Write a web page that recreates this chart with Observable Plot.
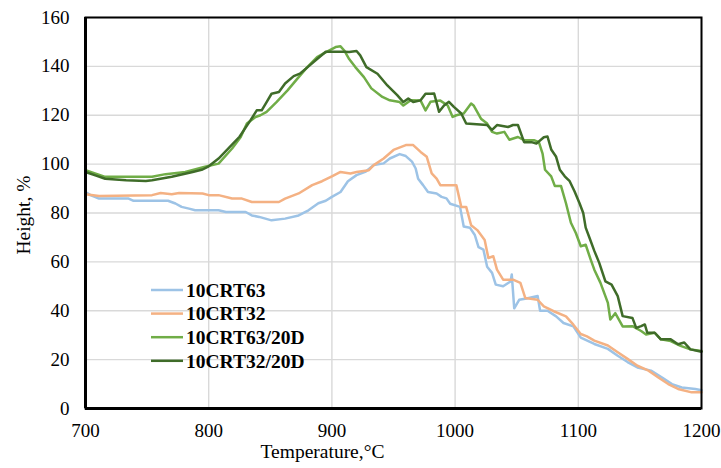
<!DOCTYPE html>
<html>
<head>
<meta charset="utf-8">
<script src="https://cdn.jsdelivr.net/npm/d3@7"></script>
<script src="https://cdn.jsdelivr.net/npm/@observablehq/plot@0.6"></script>
<style>
  html, body { margin: 0; padding: 0; background: #fff; }
  svg { display: block; }
</style>
</head>
<body>
<div id="chart"></div>
<script>
// ---- data ----
const seriesNames = ["10CRT63", "10CRT32", "10CRT63/20D", "10CRT32/20D"];
const seriesColors = ["#9dc3e6", "#f4b183", "#70ad47", "#3f6c29"];
const xTicks = [700, 800, 900, 1000, 1100, 1200];
const yTicks = [0, 20, 40, 60, 80, 100, 120, 140, 160];

const t63 = [700,704,711,735,739,767,773,778,784,789,808,814,830,835,841,851,862,873,881,889,895,900,907,913,920,927,934,942,947,955,960,965,968,970,974,978,985,989,993,996,1004,1007,1012,1016,1019,1023,1026,1030,1033,1039,1045,1046,1048,1052,1058,1067,1069,1075,1082,1088,1096,1102,1113,1124,1132,1140,1148,1159,1168,1176,1184,1195,1200];
const h63 = [88.6,87.3,85.9,85.9,85,85,83.9,82.5,81.8,81.1,81.1,80.4,80.4,79,78.4,77,77.7,79,81.1,84,85,86.6,88.6,93,95.5,96.8,99.6,100.3,102.3,104.1,103.3,101,98.2,94,91.4,88.6,88,86.6,86,83.8,82.5,74.5,74,71,66,65,58,55.5,50.7,50,52,54.8,41,44.5,45,46,40,40,37.7,35,33.6,29,26.4,24.4,21.6,19,16.8,15.5,12.7,10,8.6,8,7.5];

const t32 = [700,711,754,761,770,776,795,800,808,819,827,835,846,857,862,873,884,892,900,907,915,920,930,934,942,950,960,966,972,977,981,985,988,1001,1005,1009,1013,1018,1024,1027,1031,1034,1039,1047,1053,1057,1067,1072,1080,1090,1096,1102,1107,1113,1124,1132,1140,1148,1157,1165,1173,1181,1192,1200];
const h32 = [87.7,87,87.3,88.2,87.7,88.2,88,87.3,87.3,85.9,85.9,84.5,84.5,84.5,85.9,88,91.4,93,95,96.8,96.2,96.8,97.5,99.6,102.3,105.8,107.8,107.8,105,103,96.2,94.1,91.4,91.4,82.5,82.5,75,73,69,61.6,62.3,56.8,52.7,52.7,51.4,45.2,44.5,41.8,39.8,37.7,34.3,30.5,29.5,27.8,25.8,23,20.3,17.5,15.5,12.7,10,8,6.6,6.6];

const t6320 = [700,716,741,754,765,781,797,808,819,826,831,838,842,847,855,864,872,880,888,893,903,907,910,914,919,926,932,941,947,955,958,964,972,976,980,988,994,998,1001,1007,1013,1015,1021,1026,1030,1034,1040,1044,1051,1056,1064,1068,1071,1073,1078,1081,1086,1090,1094,1098,1102,1106,1110,1113,1118,1124,1126,1130,1136,1144,1151,1155,1162,1167,1175,1183,1191,1200];
const h6320 = [97.5,94.8,94.8,94.8,95.9,96.8,98.9,100.2,106.4,111.1,116.6,119.3,120,121.4,125.4,130.2,135,139.7,143.8,145.2,147.9,148.2,146.5,143,139.7,135.6,131,127.5,126.1,125.4,124,126.1,126,122,125.5,126,124,119.3,120,120.7,124.8,124,118.6,116.6,113.2,112.5,113.2,110,111.1,109.8,109.8,109,104.3,97.7,95,91,91,84,76,71.8,66.4,67,61,56.8,51.4,43.2,36.4,39,33.6,33.7,31.7,30.3,31,28.3,27.6,25.6,24.2,23.5];

const t3220 = [700,708,716,733,749,754,770,787,795,800,808,816,825,834,839,843,847,851,857,862,869,874,882,888,895,910,914,920,923,928,937,945,953,958,962,966,972,976,980,983,987,991,995,999,1005,1009,1026,1030,1034,1043,1047,1051,1056,1062,1066,1072,1075,1078,1082,1085,1089,1093,1097,1101,1104,1106,1109,1113,1117,1122,1127,1132,1136,1144,1147,1151,1154,1156,1162,1167,1175,1181,1186,1191,1200];
const h3220 = [96.8,95.4,94,93.4,93.1,93.4,94.8,96.8,97.8,99.1,102.3,106.4,111.2,118,122,122,125.4,128.8,129.5,133,136,137,140.4,143,146,146,145.9,146.3,144.5,139.7,137,132.2,128.2,125.4,126.8,125.4,126.1,128.8,128.8,128.9,121.4,124,125.5,123.4,120.7,116.6,116,114,116,115.2,116,116,109,109,108.4,111,111.3,106,103,97.7,95,93,88.8,84,80,74,70,64.5,59.6,52,50.7,46,37.8,37,33,33.7,34.4,31,31,28.3,28.3,26.3,27,24.2,23.2];

// ---- build table ----
const seriesT = [t63, t32, t6320, t3220];
const seriesH = [h63, h32, h6320, h3220];
const rows = [];
seriesNames.forEach((name, i) => {
  seriesT[i].forEach((t, j) => rows.push({series: name, temp: t, height: seriesH[i][j]}));
});

const font = "'Liberation Serif', 'Times New Roman', serif";
const fmt = d3.format("d");

const chart = Plot.plot({
  width: 721,
  height: 468,
  marginLeft: 85,
  marginRight: 20,
  marginTop: 17,
  marginBottom: 60,
  style: {fontFamily: font, background: "#fff", color: "#000"},
  x: {domain: [700, 1200], ticks: xTicks},
  y: {domain: [0, 160], ticks: yTicks},
  color: {domain: seriesNames, range: seriesColors},
  marks: [
    Plot.gridX(xTicks, {stroke: "#d9d9d9", strokeOpacity: 1, strokeWidth: 1.4}),
    Plot.gridY(yTicks, {stroke: "#d9d9d9", strokeOpacity: 1, strokeWidth: 1.4}),
    Plot.line(rows, {x: "temp", y: "height", z: "series", stroke: "series", strokeWidth: 2.5, strokeLinejoin: "round"}),
    Plot.frame({stroke: "#000", strokeWidth: 2}),
    Plot.ruleX([700], {stroke: "#000", strokeWidth: 3}),
    Plot.ruleY([0], {stroke: "#000", strokeWidth: 3}),
    Plot.axisX(xTicks, {tickSize: 0, tickPadding: 15, fontSize: 19, tickFormat: fmt, label: null}),
    Plot.axisY(yTicks, {tickSize: 0, tickPadding: 16, fontSize: 19, tickFormat: fmt, label: null}),
    Plot.text(["Temperature,°C"], {frameAnchor: "bottom", dx: -71, dy: 49, fontSize: 19.5, textAnchor: "middle"}),
    Plot.text(["Height, %"], {frameAnchor: "left", dx: -62, dy: 2, rotate: -90, fontSize: 19.5, textAnchor: "middle"})
  ]
});

// legend
const svg = d3.select(chart);
const lg = svg.append("g").attr("font-family", font).attr("text-anchor", "start");
seriesNames.forEach((name, i) => {
  const y = 290 + i * 23.6;
  lg.append("line").attr("x1", 151).attr("x2", 183).attr("y1", y).attr("y2", y)
    .attr("stroke", seriesColors[i]).attr("stroke-width", 2.5);
  lg.append("text").attr("x", 186).attr("y", y).attr("dy", "0.35em")
    .attr("text-anchor", "start")
    .attr("font-size", 19.5).attr("font-weight", "bold").attr("fill", "#000").text(name);
});

document.getElementById("chart").appendChild(chart);
</script>
</body>
</html>
